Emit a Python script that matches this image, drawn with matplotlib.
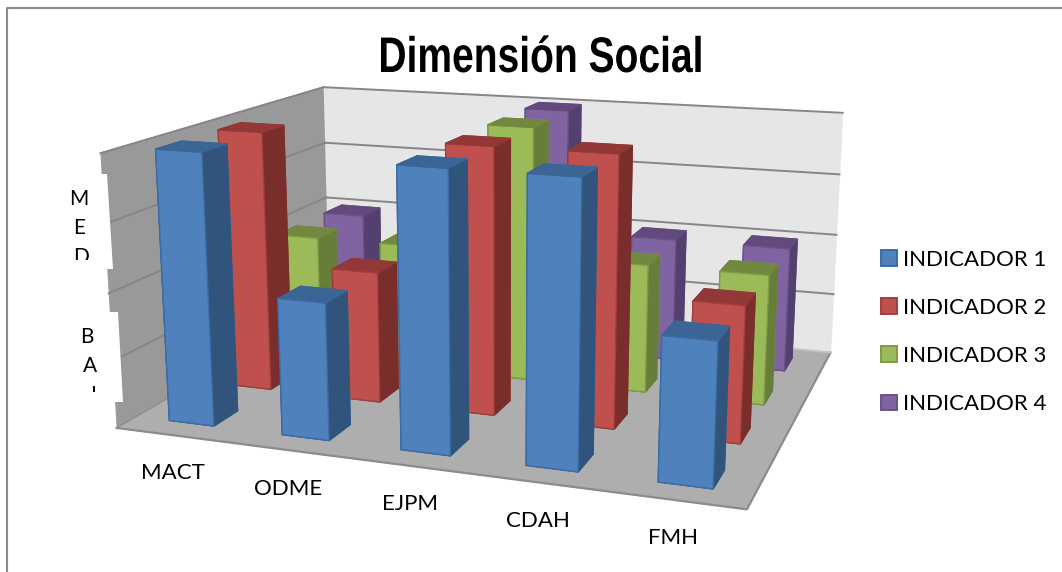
# Dimensión Social - 3D column chart
import matplotlib
matplotlib.use('Agg')
import matplotlib.pyplot as plt
from matplotlib.patches import Patch, Polygon
from matplotlib.patheffects import AbstractPathEffect
from matplotlib.transforms import Affine2D, Bbox

# Data
categories = ['MACT', 'ODME', 'EJPM', 'CDAH', 'FMH']
series = ['INDICADOR 1', 'INDICADOR 2', 'INDICADOR 3', 'INDICADOR 4']
indicador_1 = [4, 2, 4, 4, 2]
indicador_2 = [4, 2, 4, 4, 2]
indicador_3 = [2, 2, 4, 2, 2]
indicador_4 = [2, 2, 4, 2, 2]
values = [indicador_1, indicador_2, indicador_3, indicador_4]
z_levels = [1, 2, 3, 4]

# front, top, side, edge colours per series
colors = [('#4F81BD', '#3A6595', '#31547C', '#3B6CA6'),
          ('#C0504D', '#933836', '#7A2E2C', '#A03F3C'),
          ('#9BBB59', '#71893F', '#677E3A', '#7F9C45'),
          ('#8064A2', '#634A7E', '#53406F', '#6A5288')]


class Squeeze(AbstractPathEffect):
    # narrows a text horizontally around a fixed display x
    def __init__(self, sx, x0):
        super().__init__()
        self.sx = sx
        self.x0 = x0

    def draw_path(self, renderer, gc, tpath, affine, rgbFace=None):
        squeeze = Affine2D().translate(-self.x0, 0).scale(self.sx, 1).translate(self.x0, 0)
        renderer.draw_path(gc, tpath, affine + squeeze, rgbFace)


W, H = 1062, 572
plt.rcParams['font.family'] = ['Lato', 'DejaVu Sans']
fig = plt.figure(figsize=(W / 100, H / 100), dpi=100)

# 3D axes, camera fitted so the box sits in the middle of the figure
cx, cy = 491.19, 269.70
s = H / W
ax = fig.add_axes([cx / W - s / 2, 1 - cy / H - 0.5, s, 1.0], projection='3d', computed_zorder=False)
ax.view_init(elev=13.81, azim=-70.58)
ax.set_proj_type('persp', focal_length=0.5292)
ax.set_box_aspect((1, 0.7829, 0.4381), zoom=1.3716)
ax.set_xlim(0, 5, view_margin=0)
ax.set_ylim(0, 4, view_margin=0)
ax.set_zlim(0, 4, view_margin=0)
ax.patch.set_alpha(0)
ax.grid(False)
ax.set_xticks([])
ax.set_yticks([])
ax.set_zticks([])

for a in (ax.xaxis, ax.yaxis, ax.zaxis):
    a.line.set_color((0, 0, 0, 0))
    a.pane.set_edgecolor((0, 0, 0, 0))
# panes: x-pane is the left wall, y-pane the back wall, z-pane the floor
ax.xaxis.set_pane_color('#999999')
ax.yaxis.set_pane_color('#E6E6E6')
ax.zaxis.set_pane_color('#AEAEAE')

# Gridlines on both walls
for z in z_levels:
    ax.plot([0, 0], [0, 4], [z, z], color='#868686', lw=1.4, zorder=1, clip_on=False)
    ax.plot([0, 5], [4, 4], [z, z], color='#868686', lw=1.4, zorder=1, clip_on=False)
ax.plot([0, 5, 5], [0, 0, 4], [0, 0, 0], color='#8C8C8C', lw=1.6, zorder=1, clip_on=False)
ax.plot([5, 0], [4, 4], [0, 0], color='#C4C4C4', lw=1.2, zorder=1, clip_on=False)
ax.plot([0, 0], [0, 4], [0, 0], color='#8C8C8C', lw=1.0, zorder=1, clip_on=False)

# Bars, drawn from the back row forward and left to right
order = 2
for j in range(3, -1, -1):
    front, top, side, edge = colors[j]
    for i in range(5):
        # faces: bottom, top, front, back, left, right
        faces = [side, top, front, front, side, side]
        edges = [side, top, edge, edge, side, side]
        bar = ax.bar3d(i + 0.3, j + 0.3, 0, 0.4, 0.4, values[j][i], color=faces, edgecolors=edges,
                       linewidth=1.0, shade=False, zorder=order)
        bar.set_clip_on(False)
        order += 1

# Flat overlay in pixel coordinates for text, legend and frame
ov = fig.add_axes([0, 0, 1, 1], zorder=5)
ov.set_xlim(0, W)
ov.set_ylim(H, 0)
ov.axis('off')

ov.plot([6.5, 6.5, 1062], [H, 7.5, 7.5], color='#8A8A8A', lw=1.5, clip_on=False)

ov.text(541, 59, 'Dimensión Social', fontsize=36, fontweight='bold', family='Liberation Sans',
        ha='center', va='center', path_effects=[Squeeze(0.78, 541)])

# Category labels under the front edge of the floor
label_xy = [(173, 473), (288, 489), (410, 504), (538, 521), (673, 538)]
for name, (lx, ly) in zip(categories, label_xy):
    ov.text(lx, ly, name, fontsize=16, ha='center', va='center', color='black')

# Value-axis labels, cut off by their boxes
ov.add_patch(Polygon([(60, 174), (107, 174), (113, 269), (60, 269)], fc='white', ec='none'))
ov.add_patch(Polygon([(60, 312), (118, 312), (123, 402), (60, 402)], fc='white', ec='none'))
for txt, x0, y0, ymax in [('M', 79, 199, 260), ('E', 79, 228, 260), ('D', 81, 257, 260),
                          ('B', 87, 337, 392), ('A', 90, 366, 392), ('J', 92, 395, 392)]:
    t = ov.text(x0, y0, txt, fontsize=15, ha='center', va='center', color='black')
    t.set_clip_box(Bbox([[60, H - ymax], [140, H - 160]]))
    t.set_clip_on(True)

# Legend
handles = [Patch(facecolor=c[0], edgecolor=c[3], linewidth=1.4) for c in colors]
ov.legend(handles, series, loc='center left', bbox_to_anchor=(880.5, 332), bbox_transform=ov.transData,
          frameon=False, fontsize=16, handlelength=0.72, handleheight=0.72, handletextpad=0.3,
          labelspacing=1.27, borderpad=0, borderaxespad=0)

fig.savefig('out.png', dpi=100)
